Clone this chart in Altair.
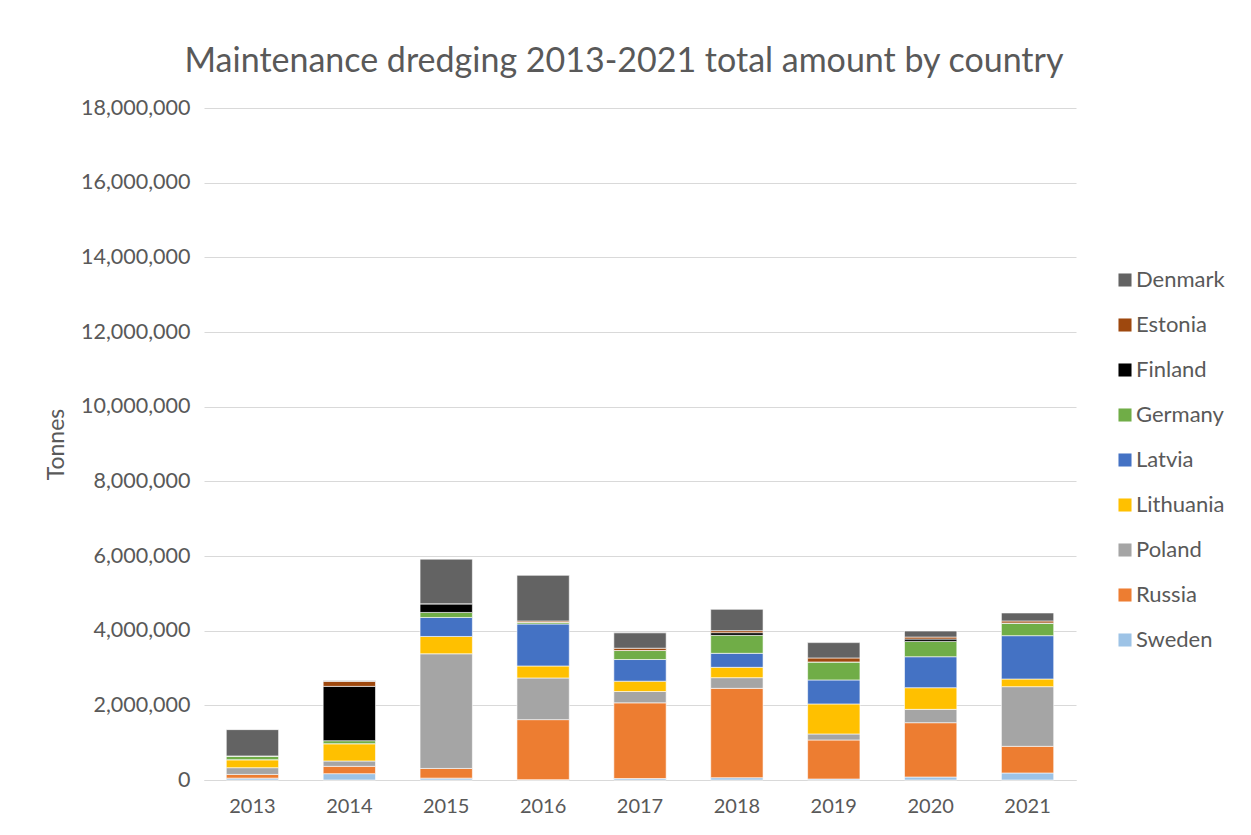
import altair as alt
import pandas as pd

years = ["2013", "2014", "2015", "2016", "2017", "2018", "2019", "2020", "2021"]
countries = ["Sweden", "Russia", "Poland", "Lithuania", "Latvia", "Germany", "Finland", "Estonia", "Denmark"]
colors = ["#9DC3E6", "#ED7D31", "#A5A5A5", "#FFC000", "#4472C4", "#70AD47", "#000000", "#9E480E", "#636363"]

sweden    = [50000, 170000, 50000, 10000, 40000, 62000, 27000, 80000, 188000]
russia    = [100000, 196000, 260000, 1607000, 2027000, 2393000, 1045000, 1455000, 714000]
poland    = [180000, 143000, 3071000, 1116000, 303000, 286000, 161000, 357000, 1598000]
lithuania = [214000, 464000, 464000, 321000, 277000, 277000, 804000, 580000, 205000]
latvia    = [0, 0, 509000, 1125000, 580000, 375000, 643000, 830000, 1161000]
germany   = [100000, 80000, 134000, 45000, 241000, 482000, 482000, 411000, 330000]
finland   = [0, 1455000, 232000, 0, 0, 71000, 0, 62000, 10000]
estonia   = [0, 134000, 0, 35000, 62000, 54000, 107000, 54000, 54000]
denmark   = [705000, 15000, 1196000, 1223000, 411000, 571000, 411000, 161000, 214000]

series = [sweden, russia, poland, lithuania, latvia, germany, finland, estonia, denmark]

rows = []
for ci, (c, vals) in enumerate(zip(countries, series)):
    for y, v in zip(years, vals):
        rows.append({"Year": y, "Country": c, "Tonnes": v, "order": ci})
df = pd.DataFrame(rows)

legend_order = list(reversed(countries))
legend_colors = list(reversed(colors))

FONT = "Lato"
TXT = "#595959"

chart = alt.Chart(df).mark_bar(stroke="white", strokeWidth=0.6).encode(
    x=alt.X("Year:N", sort=years, title=None,
            scale=alt.Scale(paddingInner=0.46, paddingOuter=0.23),
            axis=alt.Axis(labelAngle=0, labelFontSize=20, labelColor=TXT, labelFont=FONT,
                          ticks=False, domainColor="#D9D9D9", labelPadding=16)),
    y=alt.Y("Tonnes:Q", stack="zero", title="Tonnes",
            scale=alt.Scale(domain=[0, 18000000], nice=False),
            axis=alt.Axis(values=list(range(0, 18000001, 2000000)), format=",.0f",
                          labelFontSize=21.5, labelColor=TXT, labelFont=FONT, ticks=False,
                          domain=False, gridColor="#D9D9D9", labelPadding=14,
                          titleFontSize=23, titleColor=TXT, titleFont=FONT,
                          titleFontWeight="normal", titlePadding=12)),
    color=alt.Color("Country:N", sort=legend_order,
                    scale=alt.Scale(domain=legend_order, range=legend_colors),
                    legend=alt.Legend(title=None, orient="none", legendX=910, legendY=161,
                                      symbolType="square", symbolSize=170, symbolStrokeWidth=0,
                                      labelFontSize=22, labelColor=TXT, labelFont=FONT,
                                      rowPadding=23, labelOffset=0)),
    order=alt.Order("order:Q", sort="ascending"),
).properties(
    width=872, height=672,
    title=alt.TitleParams("Maintenance dredging 2013-2021 total amount by country",
                          fontSize=34, color=TXT, font=FONT, fontWeight="normal",
                          anchor="middle", offset=18, dx=-16),
    padding={"left": 37, "top": 37, "right": 10, "bottom": 5},
).configure_view(stroke=None)

chart.save("out.html", embed_options={"renderer": "svg", "actions": False})
